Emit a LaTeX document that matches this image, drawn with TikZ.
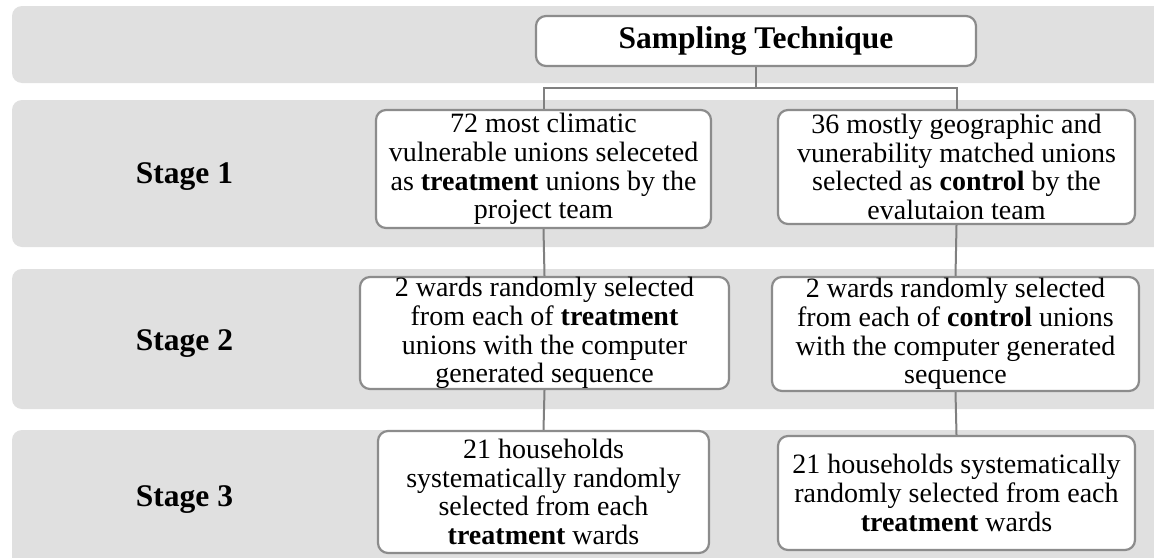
\documentclass[tikz,border=0pt]{standalone}
\usepackage{fontspec}
\setmainfont{Liberation Serif}
\definecolor{bandgray}{RGB}{224,224,224}
\definecolor{edgegray}{RGB}{140,140,140}
\definecolor{linegray}{RGB}{128,128,128}
\tikzset{
  band/.style={fill=bandgray, draw=none, rounded corners=10pt},
  box/.style={draw=edgegray, line width=2.2pt, fill=white, rounded corners=10pt,
    align=center, inner sep=0pt, font=\fontsize{28}{28.7}\selectfont},
  headbox/.style={box, font=\fontsize{31.5}{34}\selectfont\bfseries},
  stagelbl/.style={font=\fontsize{31.5}{34}\selectfont\bfseries, anchor=base, inner sep=0pt},
  conn/.style={draw=linegray, line width=2pt},
}
\begin{document}
\begin{tikzpicture}[x=1pt,y=-1pt]
\useasboundingbox (0,0) rectangle (1154,557);
\clip (0,0) rectangle (1154,557);
\fill[white] (0,0) rectangle (1154,557);
% bands
\path[band] (12,6) rectangle (1180,83);
\path[band] (12,100) rectangle (1180,247);
\path[band] (12,269) rectangle (1180,409);
\path[band] (12,430) rectangle (1180,580);
% stage labels
\node[stagelbl] (s1) at (184.5,183) {Stage 1};
\node[stagelbl] (s2) at (184.5,350) {Stage 2};
\node[stagelbl] (s3) at (184.5,506) {Stage 3};
% top
\node[headbox, minimum width=440pt, minimum height=50pt] (top) at (756,41) {Sampling Technique};
\coordinate (split) at (756,88);
% stage 1
\node[box, minimum width=335pt, minimum height=118pt] (L1) at (543.5,169)
  {72 most climatic\\vulnerable unions seleceted\\as \textbf{treatment} unions by the\\project team};
\node[box, minimum width=357pt, minimum height=114pt] (R1) at (956.5,167)
  {36 mostly geographic and\\vunerability matched unions\\selected as \textbf{control} by the\\evalutaion team};
% stage 2
\node[box, minimum width=369pt, minimum height=112pt] (L2) at (544.5,333)
  {2 wards randomly selected\\from each of \textbf{treatment}\\unions with the computer\\generated sequence};
\node[box, minimum width=367pt, minimum height=114pt] (R2) at (955.5,334)
  {2 wards randomly selected\\from each of \textbf{control} unions\\with the computer generated\\sequence};
% stage 3
\node[box, minimum width=331pt, minimum height=122pt] (L3) at (543.5,492)
  {21 households\\systematically randomly\\selected from each\\\textbf{treatment} wards};
\node[box, minimum width=357pt, minimum height=114pt] (R3) at (956.5,493)
  {21 households systematically\\randomly selected from each\\\textbf{treatment} wards};
% connectors
\draw[conn] (top.south) -- (split);
\draw[conn] (split) -| (L1.north);
\draw[conn] (split) -| (R1.north);
\draw[conn] (L1.south) -- (L2.north);
\draw[conn] (R1.south) -- (R2.north);
\draw[conn] (L2.south) -- (L3.north);
\draw[conn] (R2.south) -- (R3.north);
\end{tikzpicture}
\end{document}
